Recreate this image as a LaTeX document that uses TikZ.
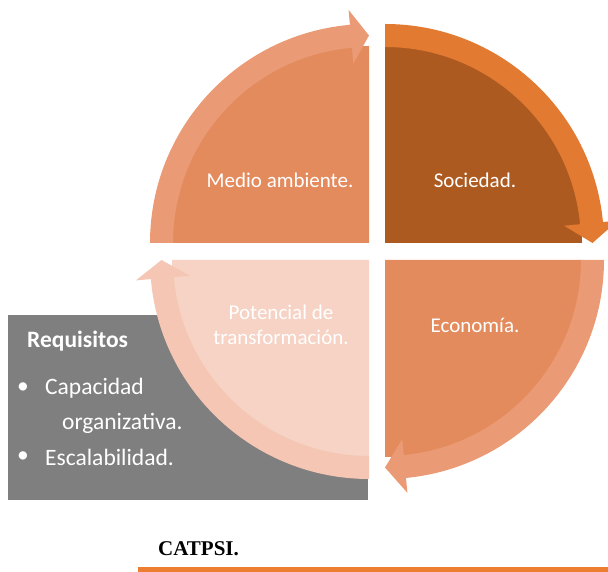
\documentclass[tikz,border=0pt]{standalone}
\usepackage{fontspec}
\setmainfont{Carlito}
\newfontfamily\serifcap{Liberation Serif}
\definecolor{qfill}{HTML}{E48B5E}
\definecolor{qband}{HTML}{EA9B75}
\definecolor{sfill}{HTML}{AD5A21}
\definecolor{sband}{HTML}{E27A32}
\definecolor{pfill}{HTML}{F6D3C5}
\definecolor{pband}{HTML}{F4C6B3}
\definecolor{boxgray}{HTML}{7F7F7F}
\definecolor{lineorange}{HTML}{ED7D31}
\tikzset{
  lbl/.style={text=white, font=\fontsize{21}{25}\selectfont, inner sep=0pt, align=center},
  boxtxt/.style={text=white, font=\fontsize{23.5}{28}\selectfont, inner sep=0pt, anchor=west},
}
\begin{document}
\begin{tikzpicture}[x=1pt,y=1pt]
\useasboundingbox (0,0) rectangle (608,572);
% gray requirements box
\fill[boxgray] (8,72) rectangle (368,257);
% ---- top-left quadrant
\begin{scope}[shift={(369,329)}]
  \fill[qfill] (0,0) -- (180:197) arc[start angle=180,end angle=90,radius=197] -- cycle;
  \fill[qband] (180:219) arc[start angle=180,end angle=95,radius=219] -- (95:234) -- (90:207.5) -- (95:180) -- (95:196)
     arc[start angle=95,end angle=180,radius=196] -- cycle;
\end{scope}
% ---- top-right quadrant
\begin{scope}[shift={(385,329)}]
  \fill[sfill] (0,0) -- (90:197) arc[start angle=90,end angle=0,radius=197] -- cycle;
  \fill[sband] (90:219) arc[start angle=90,end angle=5.5,radius=219] -- (5.5:234) -- (0:207.5) -- (5.5:180) -- (5.5:196)
     arc[start angle=5.5,end angle=90,radius=196] -- cycle;
\end{scope}
% ---- bottom-right quadrant
\begin{scope}[shift={(385,312)}]
  \fill[qfill] (0,0) -- (0:197) arc[start angle=0,end angle=-90,radius=197] -- cycle;
  \fill[qband] (0:219) arc[start angle=0,end angle=-84.5,radius=219] -- (-84.5:234) -- (-90:207.5) -- (-84.5:180) -- (-84.5:196)
     arc[start angle=-84.5,end angle=0,radius=196] -- cycle;
\end{scope}
% ---- bottom-left quadrant
\begin{scope}[shift={(369,312)}]
  \fill[pfill] (0,0) -- (270:197) arc[start angle=270,end angle=180,radius=197] -- cycle;
  \fill[pband] (270:219) arc[start angle=270,end angle=185,radius=219] -- (185:234) -- (180:207.5) -- (185:180) -- (185:196)
     arc[start angle=185,end angle=270,radius=196] -- cycle;
\end{scope}
% quadrant labels
\node[lbl] (medio) at (280,392) {Medio ambiente.};
\node[lbl] (soc) at (475,392) {Sociedad.};
\node[lbl] (eco) at (475,247) {Economía.};
\node[lbl] (pot) at (281,247) {Potencial de\\transformación.};
% requirements text
\node[boxtxt, font=\fontsize{23.5}{28}\selectfont\bfseries] (req) at (27,231) {Requisitos};
\node[boxtxt] (b1) at (17,184) {•};
\node[boxtxt] (cap) at (45,184) {Capacidad};
\node[boxtxt] (org) at (62,149) {organizativa.};
\node[boxtxt] (b2) at (17,115) {•};
\node[boxtxt] (esc) at (45,115) {Escalabilidad.};
% caption
\node[inner sep=0pt, anchor=west, font=\serifcap\bfseries\fontsize{21}{25}\selectfont] (cat) at (158,23) {CATPSI.};
\fill[lineorange] (138,0) rectangle (608,5);
\end{tikzpicture}
\end{document}
